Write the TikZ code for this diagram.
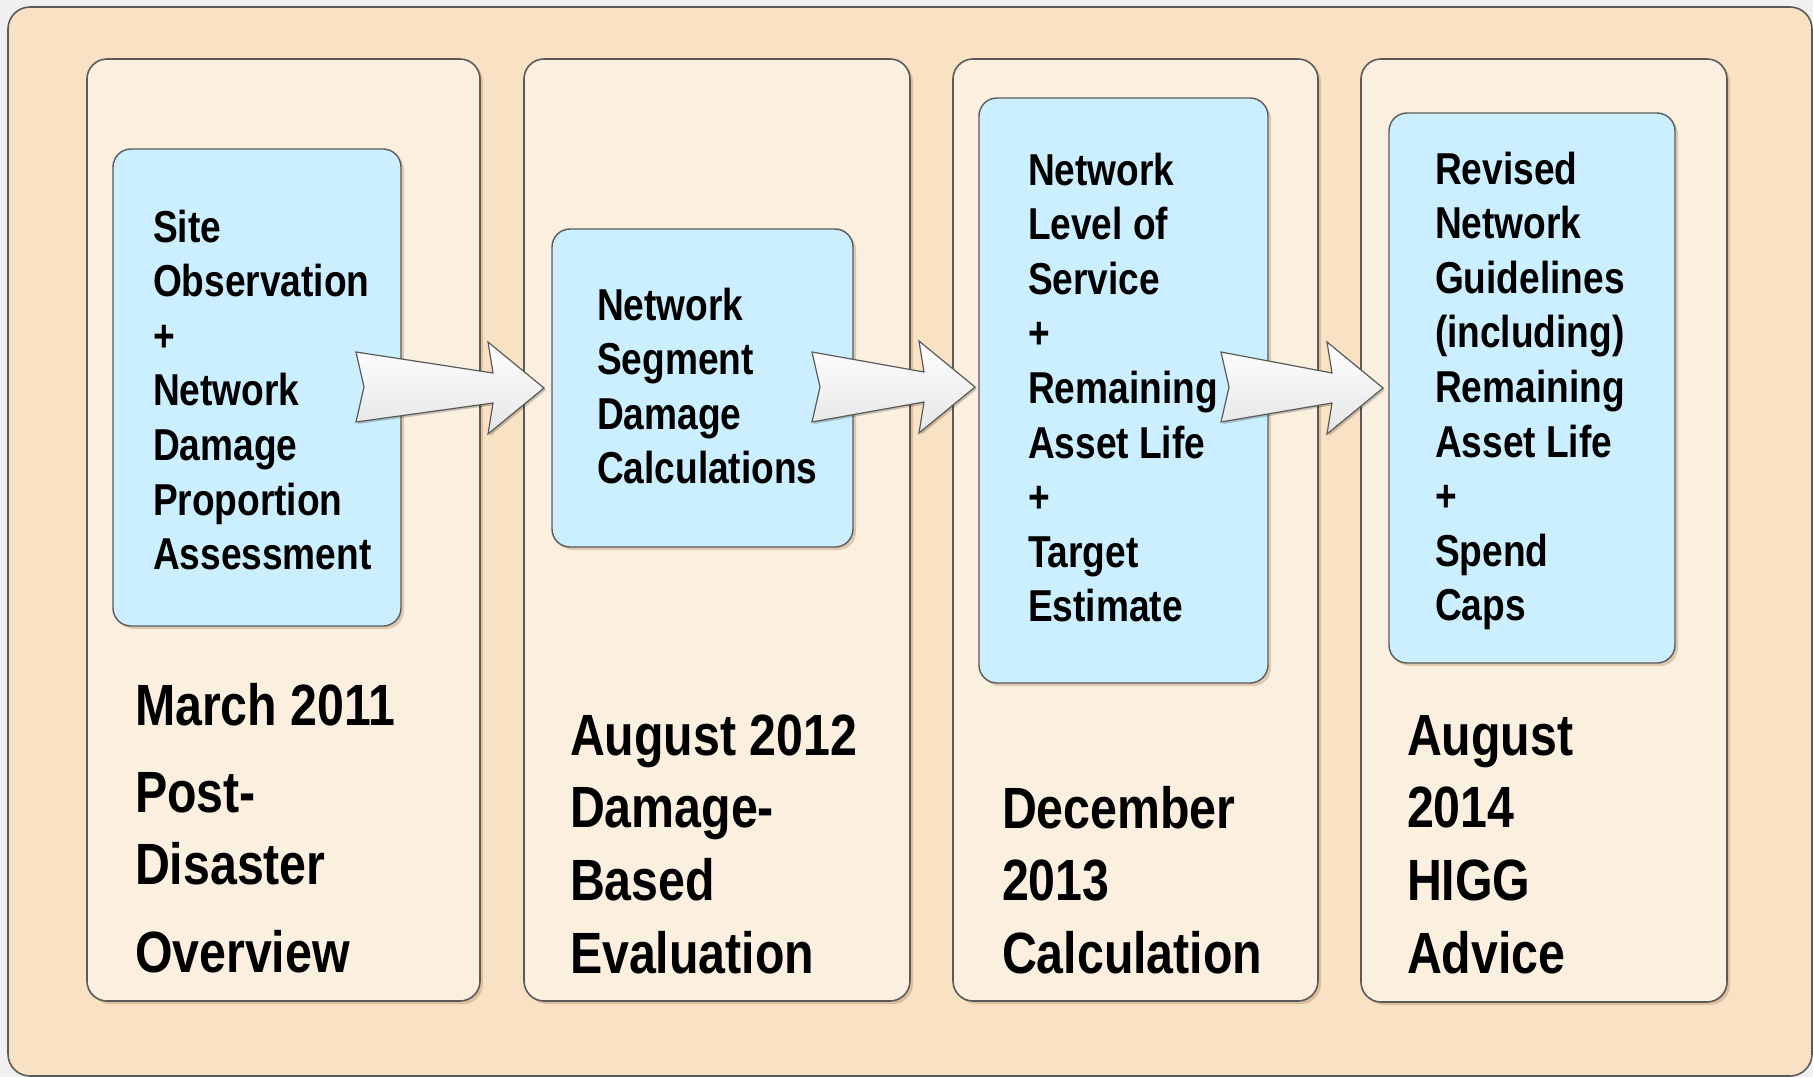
\documentclass[tikz,border=0pt]{standalone}
\usepackage{fontspec}
\setmainfont{Liberation Sans}[FakeStretch=0.83]
\usetikzlibrary{calc,shadows}
\definecolor{bgout}{HTML}{F9E2C3}
\definecolor{panelc}{HTML}{FBEFDF}
\definecolor{bluec}{HTML}{CCEFFF}
\definecolor{edgec}{HTML}{5A5A5A}
\definecolor{pagec}{HTML}{F0F0F0}
\newcommand\mlines[2]{\vtop{\baselineskip=#1\lineskiplimit=-200pt\halign{##\hfil\cr#2\crcr}}}
\newcommand\boxfont{\bfseries\fontsize{44.7pt}{54.6pt}\selectfont}
\newcommand\labfont{\bfseries\fontsize{58.2pt}{72pt}\selectfont}
\tikzset{
  outerbox/.style={draw=edgec, line width=1.6pt, fill=bgout, rounded corners=22pt},
  panel/.style={draw=edgec, line width=1.6pt, fill=panelc, rounded corners=20pt, anchor=north west, inner sep=0pt, outer sep=0pt,
     drop shadow={shadow xshift=3pt, shadow yshift=-3pt, opacity=0.25, fill=brown!70!black}},
  bluebox/.style={draw=edgec, line width=1.4pt, fill=bluec, rounded corners=18pt, anchor=north west, inner sep=0pt, outer sep=0pt,
     drop shadow={shadow xshift=3pt, shadow yshift=-3pt, opacity=0.25, fill=brown!70!black}},
  txt/.style={anchor=base west, inner sep=0pt, outer sep=0pt, text=black},
  blockarrow/.style={draw=edgec, line width=1.2pt, top color=white, bottom color=black!10, line join=miter,
     drop shadow={shadow xshift=2pt, shadow yshift=-2pt, opacity=0.2, fill=black}},
}
\newcommand\blkarrow[2]{%
  \path[blockarrow] ($(#1)+(0,-35)$) -- ($(#2)+(-51,-15)$) -- ($(#2)+(-56,-46)$) -- (#2)
     -- ($(#2)+(-56,46)$) -- ($(#2)+(-51,15)$) -- ($(#1)+(0,35)$) -- ($(#1)+(8,0)$) -- cycle;}
\begin{document}
\begin{tikzpicture}[x=1pt,y=-1pt]
\fill[pagec] (0,0) rectangle (1813,1077);
\useasboundingbox (0,0) rectangle (1813,1077);
\draw[outerbox] (8,7) rectangle (1812,1076);
% panels
\node (p1) [panel, minimum width=393pt, minimum height=942pt] at (87,59) {};
\node (p2) [panel, minimum width=386pt, minimum height=942pt] at (524,59) {};
\node (p3) [panel, minimum width=365pt, minimum height=942pt] at (953,59) {};
\node (p4) [panel, minimum width=366pt, minimum height=943pt] at (1361,59) {};
% blue boxes
\node (b1) [bluebox, minimum width=288pt, minimum height=477pt] at (113,149) {};
\node (b2) [bluebox, minimum width=301pt, minimum height=318pt] at (552,229) {};
\node (b3) [bluebox, minimum width=289pt, minimum height=585pt] at (979,98) {};
\node (b4) [bluebox, minimum width=286pt, minimum height=550pt] at (1389,113) {};
% arrows
\coordinate (a1t) at (356,387); \coordinate (a1h) at (544,388);
\coordinate (a2t) at (812,387); \coordinate (a2h) at (975,387);
\coordinate (a3t) at (1221,387); \coordinate (a3h) at (1383,388);
\blkarrow{a1t}{a1h}
\blkarrow{a2t}{a2h}
\blkarrow{a3t}{a3h}
% box texts
\node (t1) [txt] at (153,242) {\boxfont\mlines{54.6pt}{Site\cr Observation\cr +\cr Network\cr Damage\cr Proportion\cr Assessment}};
\node (t2) [txt] at (597,320) {\boxfont\mlines{54.6pt}{Network\cr Segment\cr Damage\cr Calculations}};
\node (t3) [txt] at (1028,185) {\boxfont\mlines{54.6pt}{Network\cr Level of\cr Service\cr +\cr Remaining\cr Asset Life\cr +\cr Target\cr Estimate}};
\node (t4) [txt] at (1435,184) {\boxfont\mlines{54.6pt}{Revised\cr Network\cr Guidelines\cr (including)\cr Remaining\cr Asset Life\cr +\cr Spend\cr Caps}};
% bottom labels
\node (l1) [txt] at (135,725) {\labfont\mlines{72pt}{March 2011\cr\noalign{\vskip15pt} Post-\cr Disaster\cr\noalign{\vskip16pt} Overview}};
\node (l2) [txt] at (570,755) {\labfont\mlines{72.7pt}{August 2012\cr Damage-\cr Based\cr Evaluation}};
\node (l3) [txt] at (1002,828) {\labfont\mlines{72.5pt}{December\cr 2013\cr Calculation}};
\node (l4) [txt] at (1407,755) {\labfont\mlines{72.7pt}{August\cr 2014\cr HIGG\cr Advice}};
\end{tikzpicture}
\end{document}
